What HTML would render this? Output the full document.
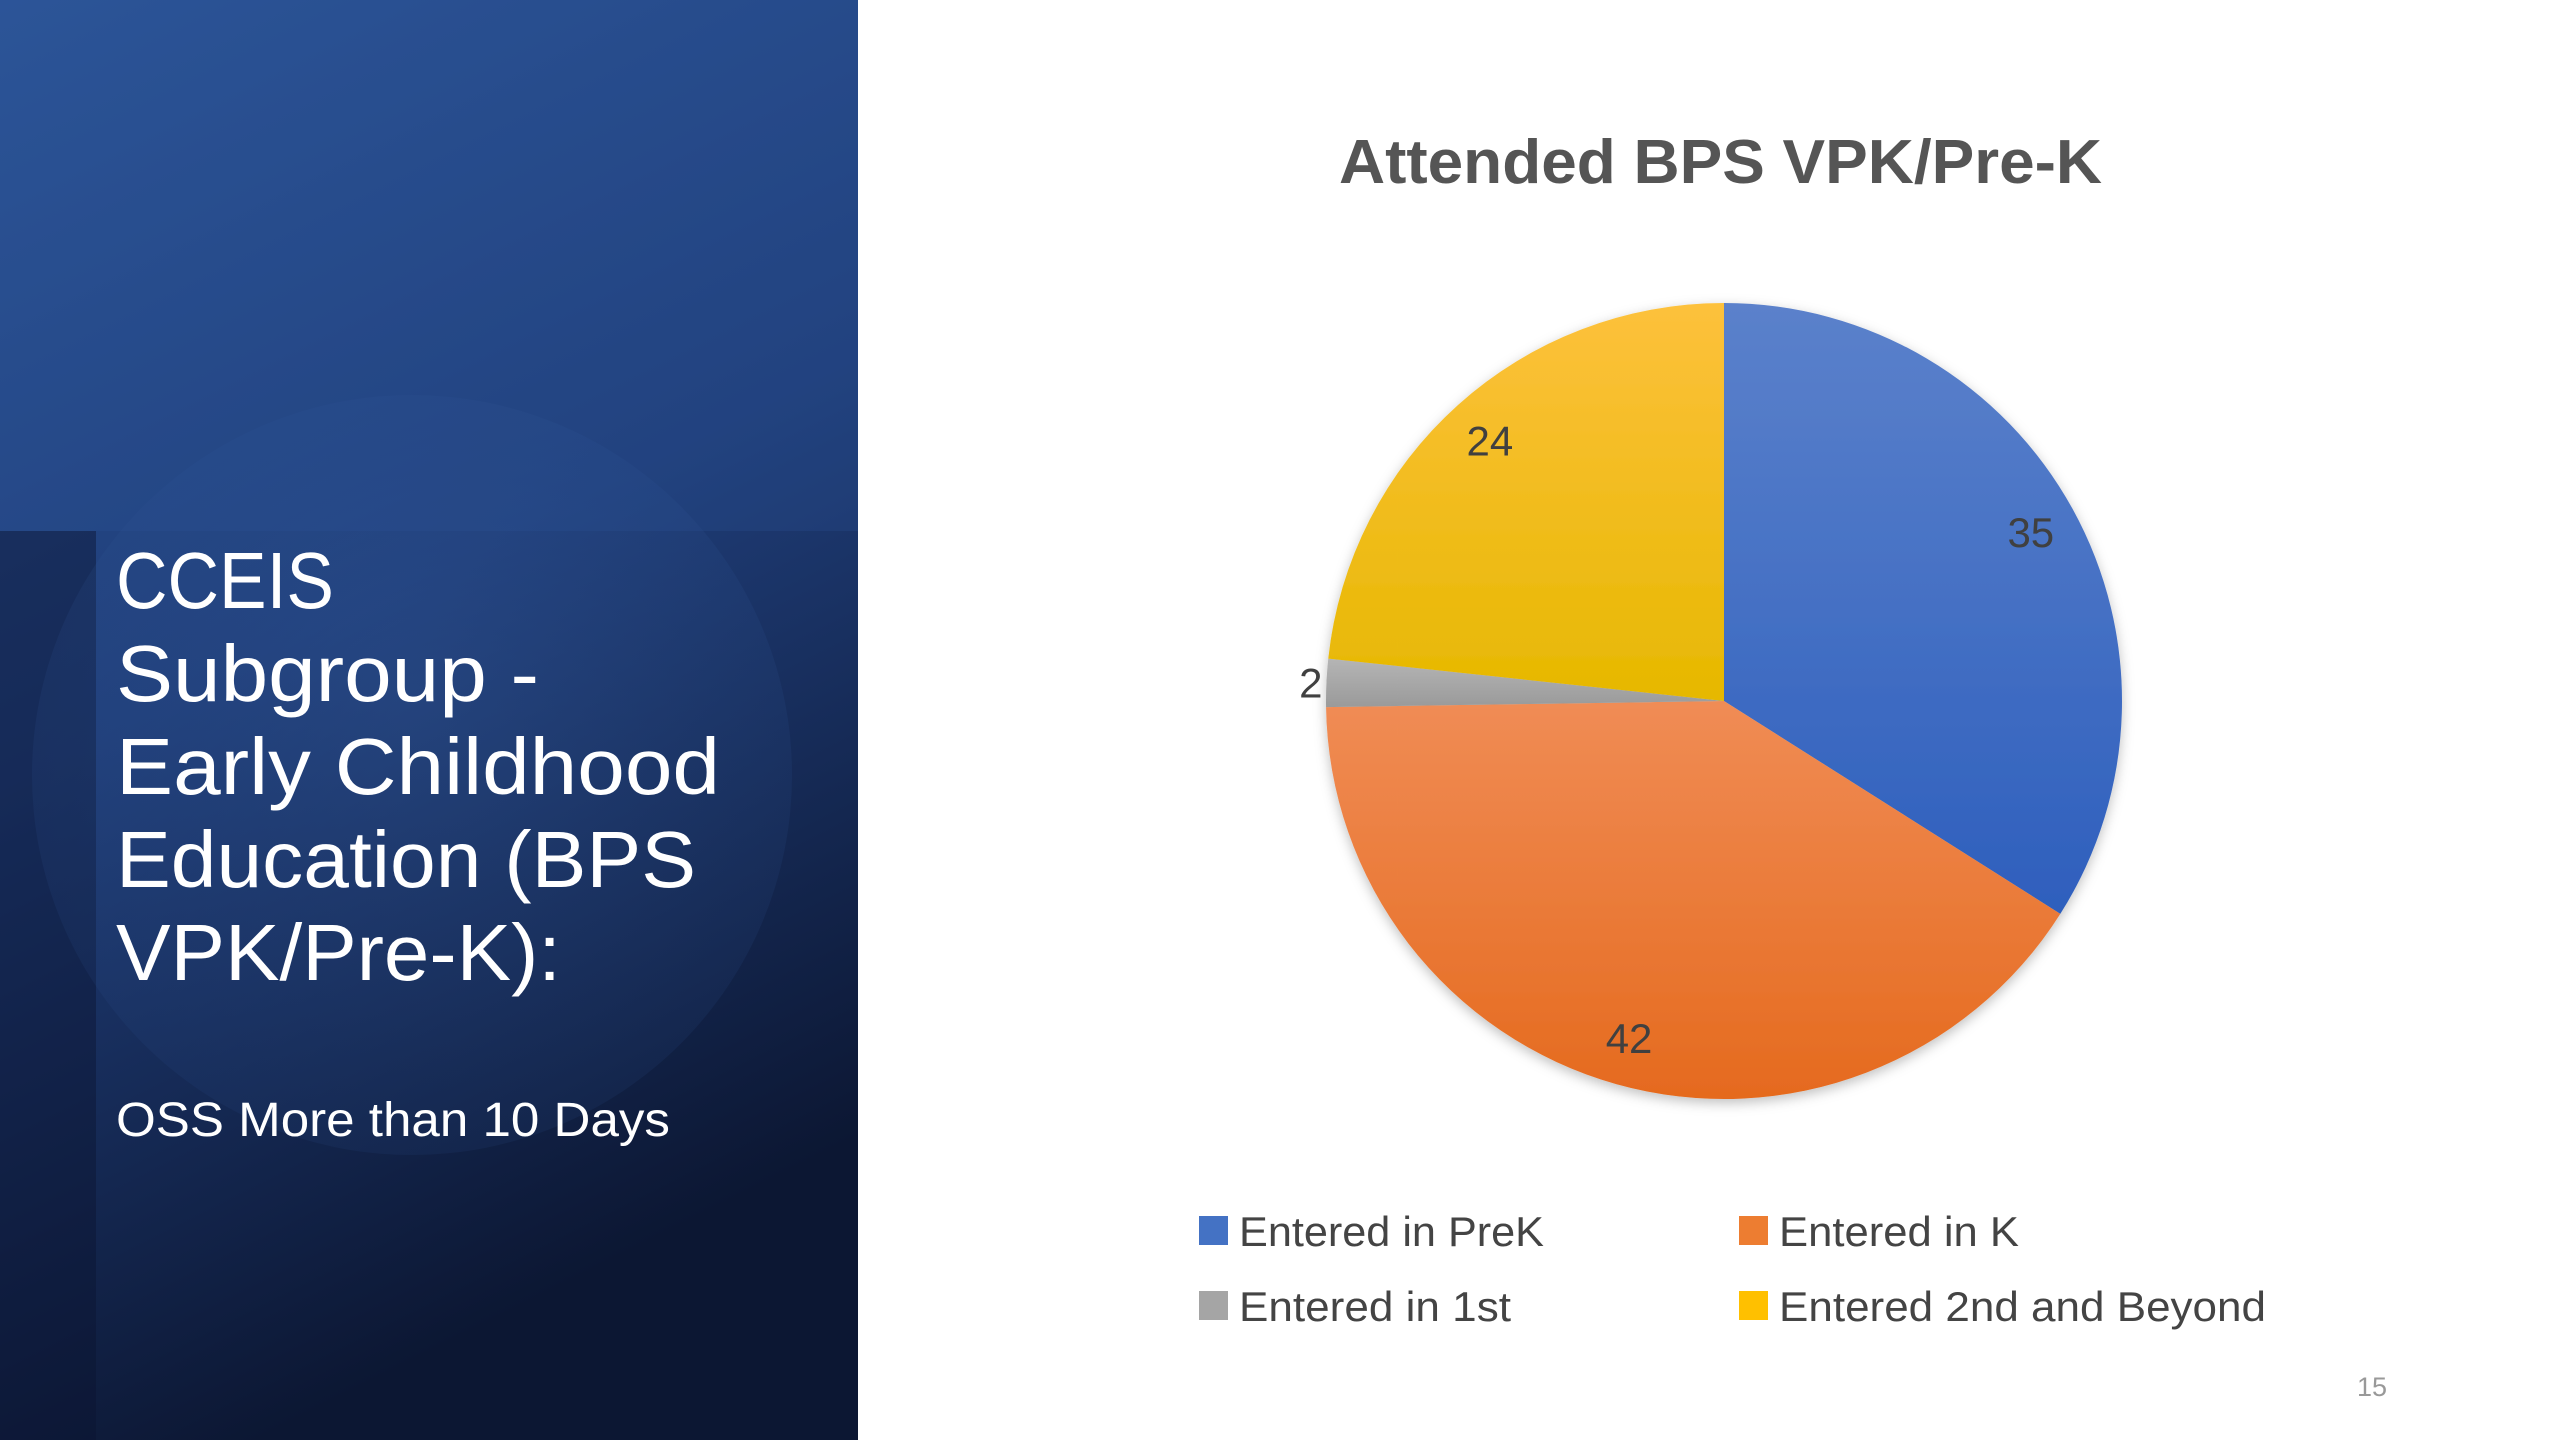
<!DOCTYPE html>
<html><head><meta charset="utf-8"><style>
html,body{margin:0;padding:0;width:2560px;height:1440px;overflow:hidden;background:#fff;font-family:"Liberation Sans",sans-serif}
</style></head><body>
<svg width="2560" height="1440" viewBox="0 0 2560 1440" xmlns="http://www.w3.org/2000/svg">
<defs>
<linearGradient id="bg" x1="0" y1="0" x2="0.3" y2="1">
<stop offset="0" stop-color="#2c5598"/><stop offset="0.5" stop-color="#1f3d78"/><stop offset="1" stop-color="#0c1733"/></linearGradient>
<radialGradient id="glow" cx="0.5" cy="0.4" r="0.6"><stop offset="0" stop-color="#3a64a8" stop-opacity="0.5"/><stop offset="1" stop-color="#2a4e8c" stop-opacity="0.25"/></radialGradient>
<linearGradient id="g0" x1="0" y1="0" x2="0" y2="1"><stop offset="0" stop-color="#5b81cb"/><stop offset="1" stop-color="#2e5fbd"/></linearGradient>
<linearGradient id="g1" x1="0" y1="0" x2="0" y2="1"><stop offset="0" stop-color="#f08c55"/><stop offset="1" stop-color="#e56a1e"/></linearGradient>
<linearGradient id="g2" x1="0" y1="0" x2="0" y2="1"><stop offset="0" stop-color="#b5b5b5"/><stop offset="1" stop-color="#9a9a9a"/></linearGradient>
<linearGradient id="g3" x1="0" y1="0" x2="0" y2="1"><stop offset="0" stop-color="#fdc13c"/><stop offset="1" stop-color="#e6b800"/></linearGradient>
<filter id="sh" x="-10%" y="-10%" width="120%" height="120%"><feDropShadow dx="0" dy="4" stdDeviation="6" flood-opacity="0.25"/></filter>
<clipPath id="lp"><rect x="0" y="0" width="858" height="1440"/></clipPath>
</defs>
<g clip-path="url(#lp)">
<rect x="0" y="0" width="858" height="1440" fill="url(#bg)"/>
<rect x="0" y="531" width="96" height="909" fill="#0a1530" opacity="0.45"/>
<circle cx="412" cy="775" r="380" fill="url(#glow)" opacity="0.55"/>
<rect x="0" y="0" width="858" height="531" fill="#2b5296" opacity="0.25"/>
</g>
<g fill="#ffffff" font-family="'Liberation Sans',sans-serif" font-size="80">
<text x="116" y="608" textLength="218" lengthAdjust="spacingAndGlyphs">CCEIS</text>
<text x="116" y="701" textLength="423" lengthAdjust="spacingAndGlyphs">Subgroup -</text>
<text x="116" y="794" textLength="604" lengthAdjust="spacingAndGlyphs">Early Childhood</text>
<text x="116" y="887" textLength="580" lengthAdjust="spacingAndGlyphs">Education (BPS</text>
<text x="116" y="980" textLength="445" lengthAdjust="spacingAndGlyphs">VPK/Pre-K):</text>
</g>
<text x="116" y="1136" fill="#ffffff" font-size="48" textLength="554" lengthAdjust="spacingAndGlyphs">OSS More than 10 Days</text>
<text x="1339" y="183" fill="#555" font-weight="bold" font-size="62" textLength="763" lengthAdjust="spacingAndGlyphs">Attended BPS VPK/Pre-K</text>
<g id="pie" filter="url(#sh)"></g>
<g id="labels"></g>
<g font-size="42" fill="#444">
<g><rect x="1199" y="1216" width="29" height="29" fill="#4472c4"/><text x="1239" y="1246" textLength="305" lengthAdjust="spacingAndGlyphs">Entered in PreK</text></g>
<g><rect x="1739" y="1216" width="29" height="29" fill="#ed7d31"/><text x="1779" y="1246" textLength="240" lengthAdjust="spacingAndGlyphs">Entered in K</text></g>
<g><rect x="1199" y="1291" width="29" height="29" fill="#a5a5a5"/><text x="1239" y="1321" textLength="272" lengthAdjust="spacingAndGlyphs">Entered in 1st</text></g>
<g><rect x="1739" y="1291" width="29" height="29" fill="#ffc000"/><text x="1779" y="1321" textLength="487" lengthAdjust="spacingAndGlyphs">Entered 2nd and Beyond</text></g>
</g>
<text x="2372" y="1396" fill="#999" font-size="27" text-anchor="middle">15</text>
</svg>
<script>
const categories = ["Entered in PreK","Entered in K","Entered in 1st","Entered 2nd and Beyond"];
const values = [35, 42, 2, 24];
const fills = ["url(#g0)","url(#g1)","url(#g2)","url(#g3)"];
const NS="http://www.w3.org/2000/svg";
const cx=1724, cy=701, R=398;
const total=values.reduce((a,b)=>a+b,0);
function pt(frac,r){const a=frac*2*Math.PI;return [cx+r*Math.sin(a), cy-r*Math.cos(a)];}
const pie=document.getElementById('pie'), labs=document.getElementById('labels');
let acc=0;
values.forEach((v,i)=>{
  const f0=acc/total, f1=(acc+v)/total; acc+=v;
  const [x0,y0]=pt(f0,R),[x1,y1]=pt(f1,R);
  const large=(f1-f0)>0.5?1:0;
  const p=document.createElementNS(NS,'path');
  p.setAttribute('d',`M${cx},${cy} L${x0},${y0} A${R},${R} 0 ${large} 1 ${x1},${y1} Z`);
  p.setAttribute('fill',fills[i]);
  
  
  pie.appendChild(p);
  const small=(v/total)<0.05;
  const [lx,ly]=pt((f0+f1)/2, small?R*1.01:R*0.88);
  const t=document.createElementNS(NS,'text');
  t.setAttribute('x',lx); t.setAttribute('y',ly+15);
  t.setAttribute('text-anchor',small?'end':'middle');
  t.setAttribute('font-size','42'); t.setAttribute('fill','#404040');
  
  
  t.textContent=v;
  labs.appendChild(t);
});
</script>
</body></html>
